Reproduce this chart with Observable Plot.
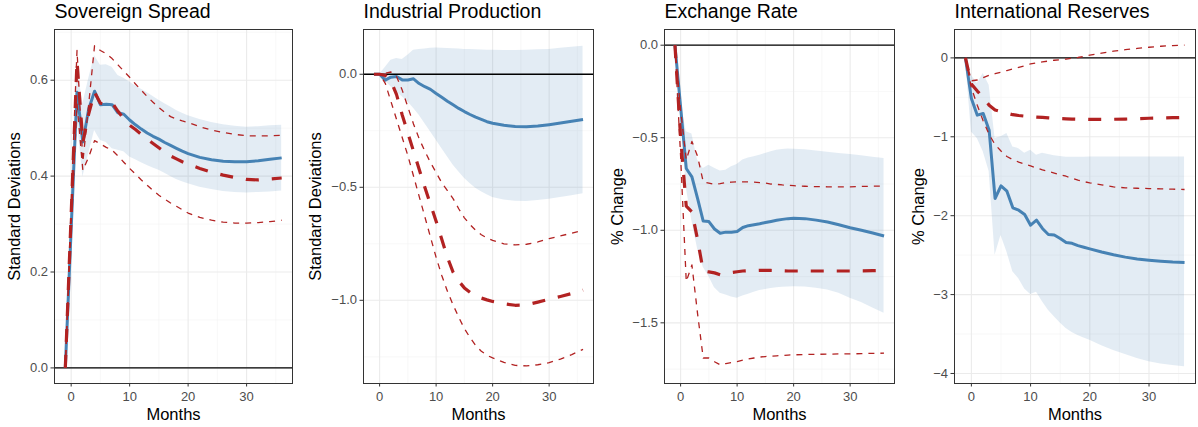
<!DOCTYPE html>
<html>
<head>
<meta charset="utf-8">
<script src="https://cdn.jsdelivr.net/npm/d3@7"></script>
<script src="https://cdn.jsdelivr.net/npm/@observablehq/plot@0.6"></script>
<style>
  html, body { margin: 0; padding: 0; background: #fff; }
  #wrap { position: relative; width: 1198px; height: 427px; overflow: hidden; }
  .panel { position: absolute; top: 0; }
</style>
</head>
<body>
<div id="wrap"></div>
<script>
// ---------------- data ----------------
const months = [-1,0,1,2,3,4,5,6,7,8,9,10,11,12,13,14,15,16,17,18,19,20,22,24,26,28,30,32,34,36];

const titles = ["Sovereign Spread", "Industrial Production", "Exchange Rate", "International Reserves"];
const yTitles = ["Standard Deviations", "Standard Deviations", "% Change", "% Change"];
const xTitle = "Months";
const xTicks = [0, 10, 20, 30];
const xTickLabels = ["0", "10", "20", "30"];
const xMinor = [5, 15, 25, 35];

// Sovereign Spread
const ssBlue   = [0,0.29,0.575,0.471,0.54,0.577,0.549,0.55,0.549,0.532,0.529,0.517,0.507,0.498,0.490,0.483,0.477,0.470,0.464,0.458,0.452,0.447,0.439,0.434,0.431,0.430,0.430,0.432,0.435,0.438];
const ssBlueLo = [0,0.26,0.52,0.398,0.447,0.495,0.474,0.47,0.457,0.454,0.451,0.44,0.434,0.428,0.422,0.417,0.412,0.406,0.399,0.393,0.388,0.384,0.377,0.372,0.368,0.366,0.365,0.366,0.367,0.369];
const ssBlueHi = [0,0.32,0.631,0.551,0.603,0.651,0.631,0.632,0.627,0.61,0.604,0.596,0.588,0.581,0.574,0.566,0.558,0.551,0.544,0.537,0.531,0.526,0.518,0.512,0.507,0.504,0.502,0.503,0.505,0.506];
const ssRed    = [0,0.32,0.64,0.47,0.53,0.575,0.552,0.55,0.553,0.535,0.52,0.506,0.497,0.487,0.477,0.468,0.459,0.45,0.442,0.436,0.43,0.425,0.416,0.408,0.402,0.397,0.393,0.392,0.394,0.396];
const ssRedLo  = [0,0.3,0.55,0.412,0.44,0.474,0.467,0.46,0.454,0.442,0.429,0.416,0.404,0.392,0.381,0.37,0.36,0.352,0.344,0.337,0.33,0.323,0.314,0.308,0.304,0.302,0.302,0.303,0.305,0.308];
const ssRedHi  = [0,0.35,0.662,0.43,0.55,0.672,0.662,0.655,0.645,0.632,0.619,0.606,0.592,0.579,0.566,0.554,0.543,0.533,0.524,0.519,0.515,0.512,0.503,0.496,0.491,0.487,0.484,0.484,0.484,0.485];
const ssYTicks = [0, 0.2, 0.4, 0.6];
const ssYTickLabels = ["0.0", "0.2", "0.4", "0.6"];
const ssYMinor = [0.1, 0.3, 0.5, 0.7];

// Industrial Production
const ipBlue   = [0,0,-0.026,-0.013,-0.01,-0.025,-0.025,-0.02,-0.041,-0.055,-0.067,-0.085,-0.102,-0.119,-0.135,-0.151,-0.165,-0.178,-0.19,-0.2,-0.21,-0.217,-0.226,-0.231,-0.232,-0.229,-0.223,-0.216,-0.208,-0.2];
const ipBlueLo = [0,0,-0.03,-0.055,-0.078,-0.1,-0.122,-0.15,-0.181,-0.218,-0.254,-0.291,-0.328,-0.365,-0.401,-0.431,-0.46,-0.483,-0.504,-0.52,-0.533,-0.545,-0.556,-0.562,-0.563,-0.559,-0.553,-0.545,-0.537,-0.529];
const ipBlueHi = [0,0,0.03,0.062,0.07,0.065,0.084,0.106,0.11,0.112,0.115,0.116,0.115,0.114,0.113,0.112,0.11,0.109,0.108,0.107,0.106,0.106,0.105,0.105,0.106,0.108,0.11,0.115,0.12,0.124];
const ipRed    = [0,0,-0.005,-0.03,-0.09,-0.18,-0.26,-0.34,-0.42,-0.5,-0.575,-0.65,-0.73,-0.81,-0.875,-0.915,-0.945,-0.965,-0.98,-0.99,-0.998,-1.005,-1.015,-1.022,-1.02,-1.008,-0.995,-0.983,-0.97,-0.955];
const ipRedLo  = [0,0,-0.04,-0.12,-0.2,-0.28,-0.36,-0.45,-0.54,-0.63,-0.72,-0.81,-0.89,-0.96,-1.02,-1.075,-1.125,-1.165,-1.2,-1.225,-1.243,-1.255,-1.275,-1.288,-1.29,-1.285,-1.276,-1.26,-1.24,-1.217];
const ipRedHi  = [0,0,0.005,0.01,-0.01,-0.07,-0.145,-0.22,-0.285,-0.34,-0.39,-0.435,-0.48,-0.515,-0.55,-0.595,-0.635,-0.665,-0.69,-0.71,-0.724,-0.735,-0.75,-0.755,-0.752,-0.742,-0.727,-0.715,-0.703,-0.69];
const ipYTicks = [0, -0.5, -1];
const ipYTickLabels = ["0.0", "\u22120.5", "\u22121.0"];
const ipYMinor = [-0.25, -0.75, -1.25];

// Exchange Rate
const erBlue   = [0,-0.333,-0.666,-0.711,-0.828,-0.95,-0.953,-0.993,-1.016,-1.01,-1.01,-1.007,-0.985,-0.975,-0.97,-0.965,-0.958,-0.952,-0.946,-0.941,-0.937,-0.935,-0.937,-0.945,-0.955,-0.97,-0.986,-1.0,-1.015,-1.031];
const erBlueLo = [0,-0.36,-0.77,-0.95,-1.1,-1.2,-1.25,-1.31,-1.34,-1.35,-1.36,-1.367,-1.355,-1.345,-1.335,-1.325,-1.32,-1.315,-1.311,-1.308,-1.306,-1.305,-1.306,-1.313,-1.322,-1.34,-1.367,-1.39,-1.42,-1.448];
const erBlueHi = [0,-0.3,-0.468,-0.48,-0.62,-0.666,-0.648,-0.665,-0.68,-0.675,-0.657,-0.645,-0.62,-0.61,-0.602,-0.594,-0.585,-0.575,-0.567,-0.563,-0.561,-0.562,-0.565,-0.572,-0.578,-0.585,-0.59,-0.597,-0.605,-0.612];
const erRed    = [0,-0.5,-0.87,-0.9,-1.05,-1.22,-1.225,-1.23,-1.24,-1.235,-1.228,-1.224,-1.22,-1.218,-1.217,-1.216,-1.216,-1.217,-1.218,-1.219,-1.22,-1.22,-1.22,-1.22,-1.22,-1.22,-1.22,-1.219,-1.218,-1.217];
const erRedLo  = [0,-0.6,-1.277,-1.187,-1.45,-1.69,-1.69,-1.71,-1.727,-1.72,-1.715,-1.709,-1.702,-1.695,-1.69,-1.685,-1.682,-1.68,-1.678,-1.676,-1.674,-1.673,-1.671,-1.67,-1.669,-1.668,-1.668,-1.666,-1.665,-1.664];
const erRedHi  = [0,-0.35,-0.62,-0.52,-0.6,-0.738,-0.745,-0.752,-0.748,-0.742,-0.74,-0.738,-0.738,-0.738,-0.74,-0.742,-0.745,-0.75,-0.752,-0.755,-0.757,-0.759,-0.762,-0.764,-0.765,-0.765,-0.765,-0.763,-0.762,-0.761];
const erYTicks = [0, -0.5, -1, -1.5];
const erYTickLabels = ["0.0", "\u22120.5", "\u22121.0", "\u22121.5"];
const erYMinor = [-0.25, -0.75, -1.25, -1.75];

// International Reserves
const irBlue   = [0,-0.515,-0.726,-0.705,-0.916,-1.782,-1.622,-1.69,-1.9,-1.93,-1.985,-2.12,-2.057,-2.162,-2.238,-2.245,-2.289,-2.34,-2.35,-2.38,-2.4,-2.42,-2.46,-2.495,-2.525,-2.548,-2.564,-2.577,-2.587,-2.593];
const irBlueLo = [0,-0.94,-1.02,-1.19,-1.44,-2.5,-2.25,-2.46,-2.71,-2.8,-2.93,-3.0,-2.97,-3.09,-3.2,-3.28,-3.36,-3.43,-3.48,-3.52,-3.55,-3.58,-3.65,-3.71,-3.76,-3.81,-3.85,-3.88,-3.9,-3.916];
const irBlueHi = [0,-0.22,-0.325,-0.198,-0.346,-1.02,-1.0,-0.958,-1.128,-1.15,-1.21,-1.17,-1.233,-1.21,-1.225,-1.24,-1.25,-1.26,-1.26,-1.26,-1.26,-1.255,-1.255,-1.255,-1.255,-1.255,-1.255,-1.255,-1.255,-1.255];
const irRed    = [0,-0.33,-0.42,-0.5,-0.6,-0.66,-0.68,-0.7,-0.72,-0.73,-0.738,-0.745,-0.75,-0.755,-0.76,-0.765,-0.768,-0.772,-0.775,-0.777,-0.779,-0.78,-0.78,-0.778,-0.775,-0.77,-0.765,-0.761,-0.758,-0.755];
const irRedLo  = [0,-0.38,-0.6,-0.8,-0.97,-1.1,-1.18,-1.25,-1.29,-1.32,-1.345,-1.37,-1.395,-1.42,-1.44,-1.46,-1.48,-1.5,-1.525,-1.55,-1.568,-1.584,-1.61,-1.635,-1.647,-1.652,-1.656,-1.66,-1.664,-1.668];
const irRedHi  = [0,-0.29,-0.28,-0.25,-0.22,-0.2,-0.18,-0.16,-0.14,-0.12,-0.1,-0.075,-0.062,-0.05,-0.04,-0.03,-0.022,-0.015,-0.005,0.005,0.02,0.035,0.06,0.085,0.105,0.12,0.135,0.148,0.156,0.161];
const irYTicks = [0, -1, -2, -3, -4];
const irYTickLabels = ["0", "\u22121", "\u22122", "\u22123", "\u22124"];
const irYMinor = [-0.5, -1.5, -2.5, -3.5];

// ---------------- layout ----------------
const FONT = '"Liberation Sans", Arial, Helvetica, sans-serif';
const panels = [
  {series: [ssBlue, ssBlueLo, ssBlueHi, ssRed, ssRedLo, ssRedHi], yTicks: ssYTicks, yLabels: ssYTickLabels, yMinor: ssYMinor,
   yDomain: [-0.0325, 0.7057], left: 0, marginLeft: 54, marginRight: 6, yTitleX: 14.5},
  {series: [ipBlue, ipBlueLo, ipBlueHi, ipRed, ipRedLo, ipRedHi], yTicks: ipYTicks, yLabels: ipYTickLabels, yMinor: ipYMinor,
   yDomain: [-1.368, 0.198], left: 300, marginLeft: 63, marginRight: 5, yTitleX: 15},
  {series: [erBlue, erBlueLo, erBlueHi, erRed, erRedLo, erRedHi], yTicks: erYTicks, yLabels: erYTickLabels, yMinor: erYMinor,
   yDomain: [-1.8277, 0.0848], left: 600, marginLeft: 64, marginRight: 4, yTitleX: 17},
  {series: [irBlue, irBlueLo, irBlueHi, irRed, irRedLo, irRedHi], yTicks: irYTicks, yLabels: irYTickLabels, yMinor: irYMinor,
   yDomain: [-4.127, 0.36], left: 900, marginLeft: 54, marginRight: 3, yTitleX: 18.5}
];

const BLUE = "#4682B4";
const RED = "#B22222";
const wrap = document.getElementById("wrap");

panels.forEach((p, k) => {
  const [b, bl, bh, r, rl, rh] = p.series;
  const rows = months.map((m, i) => ({m, b: b[i], bl: bl[i], bh: bh[i], r: r[i], rl: rl[i], rh: rh[i]}));
  const W = 298;
  const chart = Plot.plot({
    width: W,
    height: 427,
    marginLeft: p.marginLeft,
    marginRight: p.marginRight,
    marginTop: 29,
    marginBottom: 44,
    style: {fontFamily: FONT, fontSize: "13px", background: "white", color: "black", overflow: "visible"},
    x: {domain: [-2.85, 37.85]},
    y: {domain: p.yDomain},
    marks: [
      Plot.gridX(xMinor, {stroke: "#F3F3F3", strokeWidth: 0.6, strokeOpacity: 1}),
      Plot.gridY(p.yMinor, {stroke: "#F3F3F3", strokeWidth: 0.6, strokeOpacity: 1}),
      Plot.gridX(xTicks, {stroke: "#EBEBEB", strokeWidth: 1.1, strokeOpacity: 1}),
      Plot.gridY(p.yTicks, {stroke: "#EBEBEB", strokeWidth: 1.1, strokeOpacity: 1}),
      Plot.areaY(rows, {x: "m", y1: "bl", y2: "bh", fill: BLUE, fillOpacity: 0.15}),
      Plot.ruleY([0], {stroke: "black", strokeWidth: 1.3}),
      Plot.line(rows, {x: "m", y: "b", stroke: BLUE, strokeWidth: 3, strokeLinecap: "butt"}),
      Plot.line(rows, {x: "m", y: "rl", stroke: RED, strokeWidth: 1.3, strokeDasharray: "6,6", strokeLinecap: "butt"}),
      Plot.line(rows, {x: "m", y: "rh", stroke: RED, strokeWidth: 1.3, strokeDasharray: "6,6", strokeLinecap: "butt"}),
      Plot.line(rows, {x: "m", y: "r", stroke: RED, strokeWidth: 3.2, strokeDasharray: "13,13", strokeLinecap: "butt"}),
      Plot.frame({stroke: "#333333", strokeWidth: 1}),
      Plot.axisX(xTicks, {tickSize: 3.5, tickPadding: 5, fontSize: 13, stroke: "#333333", fill: "#4D4D4D",
        tickFormat: d => xTickLabels[xTicks.indexOf(d)], label: null}),
      Plot.axisY(p.yTicks, {tickSize: 3.5, tickPadding: 3, fontSize: 13, stroke: "#333333", fill: "#4D4D4D",
        tickFormat: d => p.yLabels[p.yTicks.indexOf(d)], label: null}),
      Plot.text([xTitle], {text: d => d, frameAnchor: "bottom", dy: 31, fontSize: 16.5, fill: "black", lineAnchor: "middle", textAnchor: "middle"}),
      Plot.text([yTitles[k]], {text: d => d, frameAnchor: "left", rotate: -90, dx: p.yTitleX - p.marginLeft, fontSize: 16.5, fill: "black", lineAnchor: "middle", textAnchor: "middle"}),
      Plot.text([titles[k]], {text: d => d, frameAnchor: "top-left", textAnchor: "start", lineAnchor: "bottom", dy: -11.5, fontSize: 19.5, fill: "black"})
    ]
  });
  const div = document.createElement("div");
  div.className = "panel";
  div.style.left = p.left + "px";
  div.appendChild(chart);
  wrap.appendChild(div);
});
</script>
</body>
</html>
